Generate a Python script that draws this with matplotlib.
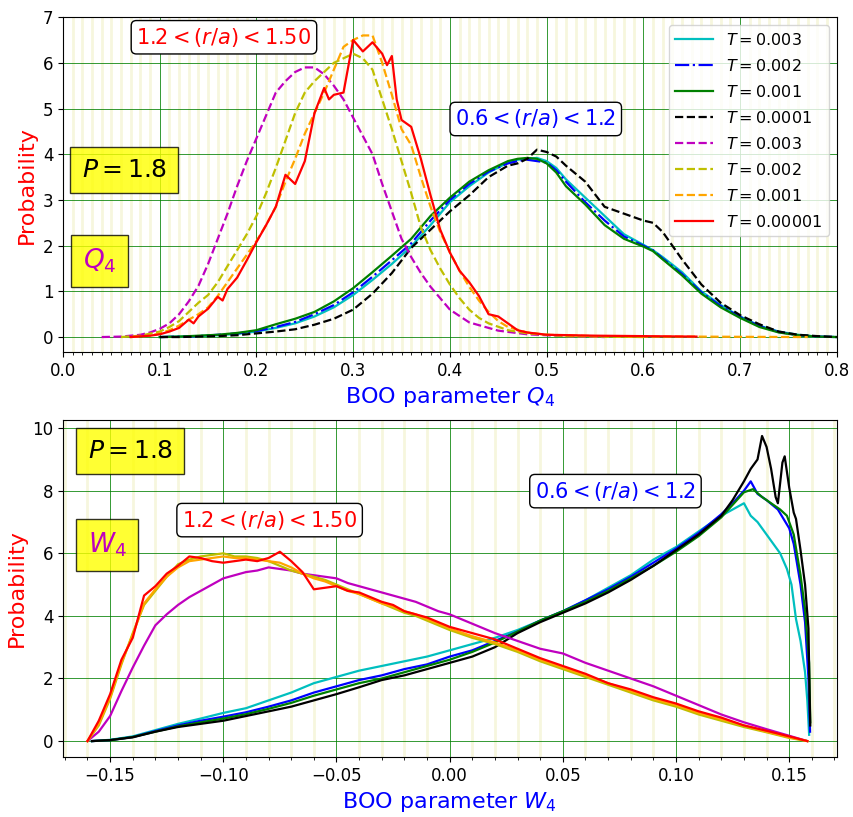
import numpy as np
import matplotlib
matplotlib.use("Agg")
import matplotlib.pyplot as plt
from matplotlib.ticker import MultipleLocator

# ---------------- Q4 data (top panel) ----------------
# 0.6 < r/a < 1.2 shell, common grid
q4_hi = [0.10, 0.12, 0.14, 0.16, 0.18, 0.20, 0.22, 0.24, 0.26, 0.28, 0.30, 0.32, 0.34, 0.36,
         0.38, 0.40, 0.42, 0.44, 0.46, 0.47, 0.48, 0.49, 0.50, 0.51, 0.52, 0.54, 0.56, 0.58,
         0.60, 0.61, 0.62, 0.64, 0.66, 0.68, 0.70, 0.72, 0.74, 0.76, 0.78, 0.80]
q4_cyan = [0, 0.01, 0.02, 0.04, 0.07, 0.12, 0.2, 0.3, 0.45, 0.65, 0.92, 1.25, 1.6, 1.98,
           2.45, 2.95, 3.3, 3.6, 3.82, 3.88, 3.9, 3.92, 3.85, 3.7, 3.45, 3.05, 2.65, 2.25,
           2.02, 1.9, 1.75, 1.42, 1.0, 0.7, 0.45, 0.25, 0.12, 0.05, 0.01, 0]
q4_blue = [0, 0.01, 0.02, 0.05, 0.08, 0.13, 0.22, 0.33, 0.5, 0.7, 0.98, 1.32, 1.68, 2.05,
           2.55, 3.0, 3.35, 3.62, 3.8, 3.85, 3.88, 3.85, 3.82, 3.65, 3.4, 2.95, 2.55, 2.2,
           2.0, 1.9, 1.72, 1.38, 0.98, 0.68, 0.44, 0.24, 0.11, 0.04, 0.01, 0]
q4_green = [0, 0.01, 0.03, 0.05, 0.09, 0.15, 0.28, 0.4, 0.55, 0.78, 1.07, 1.42, 1.78, 2.15,
            2.65, 3.05, 3.4, 3.65, 3.85, 3.9, 3.92, 3.9, 3.8, 3.6, 3.3, 2.9, 2.45, 2.15,
            1.98, 1.88, 1.7, 1.35, 0.95, 0.65, 0.42, 0.22, 0.1, 0.04, 0.01, 0]
q4_black = [0, 0, 0.01, 0.02, 0.04, 0.08, 0.12, 0.17, 0.27, 0.4, 0.6, 0.95, 1.4, 1.95,
            2.35, 2.75, 3.1, 3.5, 3.75, 3.8, 3.9, 4.1, 4.05, 3.95, 3.75, 3.4, 2.85, 2.7,
            2.55, 2.5, 2.3, 1.7, 1.15, 0.75, 0.48, 0.28, 0.12, 0.05, 0.02, 0]

# 1.2 < r/a < 1.50 shell
q4_mag_x = [0.04, 0.06, 0.08, 0.09, 0.10, 0.11, 0.12, 0.13, 0.14, 0.15, 0.16, 0.17, 0.18, 0.19,
            0.20, 0.21, 0.22, 0.23, 0.24, 0.25, 0.26, 0.27, 0.28, 0.29, 0.30, 0.31, 0.32, 0.33,
            0.34, 0.35, 0.36, 0.37, 0.38, 0.39, 0.40, 0.42, 0.45, 0.48, 0.52, 0.56]
q4_mag = [0, 0.01, 0.05, 0.1, 0.18, 0.3, 0.5, 0.78, 1.12, 1.6, 2.15, 2.7, 3.3, 3.85,
          4.35, 4.85, 5.35, 5.6, 5.8, 5.9, 5.9, 5.75, 5.5, 5.2, 4.8, 4.4, 4.0, 3.35,
          2.75, 2.15, 1.75, 1.4, 1.1, 0.85, 0.6, 0.32, 0.14, 0.06, 0.02, 0]
q4_yel_x = [0.06, 0.08, 0.10, 0.11, 0.12, 0.13, 0.14, 0.15, 0.16, 0.17, 0.18, 0.19, 0.20, 0.21,
            0.22, 0.23, 0.24, 0.25, 0.26, 0.27, 0.28, 0.29, 0.30, 0.31, 0.32, 0.33, 0.34, 0.35,
            0.36, 0.37, 0.38, 0.39, 0.40, 0.41, 0.42, 0.43, 0.44, 0.46, 0.48, 0.52, 0.56, 0.60]
q4_yel = [0, 0.03, 0.12, 0.22, 0.35, 0.55, 0.75, 0.92, 1.2, 1.55, 1.9, 2.25, 2.65, 3.15,
          3.7, 4.3, 4.9, 5.35, 5.6, 5.8, 6.0, 6.1, 6.2, 6.1, 5.85, 5.2, 4.55, 3.85,
          3.15, 2.4, 1.9, 1.5, 1.15, 0.85, 0.6, 0.42, 0.3, 0.15, 0.08, 0.02, 0.01, 0]
q4_org_x = [0.07, 0.09, 0.10, 0.11, 0.12, 0.13, 0.14, 0.15, 0.16, 0.17, 0.18, 0.19, 0.20, 0.21,
            0.22, 0.23, 0.24, 0.25, 0.26, 0.27, 0.28, 0.29, 0.30, 0.31, 0.32, 0.33, 0.34, 0.35,
            0.36, 0.37, 0.38, 0.39, 0.40, 0.41, 0.42, 0.43, 0.44, 0.45, 0.46, 0.48, 0.50, 0.55,
            0.60, 0.65, 0.70, 0.77]
q4_org = [0, 0.03, 0.08, 0.15, 0.25, 0.38, 0.5, 0.65, 0.9, 1.2, 1.5, 1.8, 2.1, 2.45,
          2.85, 3.4, 3.9, 4.45, 4.9, 5.35, 5.85, 6.35, 6.5, 6.6, 6.6, 6.0, 5.3, 4.55,
          4.2, 3.5, 2.85, 2.3, 1.85, 1.45, 1.1, 0.8, 0.55, 0.35, 0.22, 0.1, 0.05, 0.02,
          0.01, 0.01, 0.005, 0]
q4_red_x = [0.07, 0.09, 0.10, 0.11, 0.12, 0.13, 0.135, 0.14, 0.15, 0.16, 0.165, 0.17, 0.18,
            0.19, 0.20, 0.21, 0.22, 0.23, 0.24, 0.25, 0.26, 0.27, 0.275, 0.28, 0.29, 0.30,
            0.31, 0.32, 0.33, 0.335, 0.34, 0.345, 0.35, 0.36, 0.37, 0.38, 0.39, 0.40, 0.41,
            0.42, 0.43, 0.44, 0.45, 0.46, 0.47, 0.48, 0.50, 0.55, 0.60, 0.655]
q4_red = [0, 0.03, 0.06, 0.12, 0.2, 0.38, 0.3, 0.45, 0.62, 0.88, 0.8, 1.05, 1.3,
          1.68, 2.08, 2.45, 2.85, 3.55, 3.35, 3.85, 4.9, 5.45, 5.2, 5.3, 5.35, 6.5,
          6.25, 6.45, 6.2, 5.95, 6.15, 5.2, 4.75, 4.6, 3.9, 3.1, 2.35, 1.85, 1.45,
          1.2, 0.9, 0.5, 0.45, 0.3, 0.15, 0.1, 0.05, 0.03, 0.02, 0.01]

# ---------------- W4 data (bottom panel) ----------------
w4_lo = [-0.16, -0.155, -0.15, -0.145, -0.14, -0.135, -0.13, -0.125, -0.12, -0.115, -0.11,
         -0.105, -0.10, -0.095, -0.09, -0.085, -0.08, -0.075, -0.07, -0.065, -0.06, -0.055,
         -0.05, -0.045, -0.04, -0.035, -0.03, -0.025, -0.02, -0.015, -0.01, -0.005, 0.0,
         0.01, 0.02, 0.03, 0.04, 0.05, 0.06, 0.07, 0.08, 0.09, 0.10, 0.11, 0.12, 0.13,
         0.14, 0.15, 0.158]
w4_mag = [0, 0.3, 0.8, 1.6, 2.35, 3.05, 3.7, 4.05, 4.35, 4.6, 4.8, 5.0, 5.2, 5.3, 5.4,
          5.45, 5.55, 5.5, 5.45, 5.35, 5.3, 5.25, 5.2, 5.05, 4.95, 4.85, 4.75, 4.65, 4.55,
          4.45, 4.3, 4.15, 4.05, 3.75, 3.45, 3.2, 2.95, 2.8, 2.5, 2.25, 2.0, 1.75, 1.45,
          1.15, 0.85, 0.6, 0.38, 0.17, 0]
w4_yel = [0, 0.5, 1.35, 2.45, 3.45, 4.35, 4.8, 5.25, 5.65, 5.8, 5.9, 5.95, 6.0, 5.9, 5.9,
          5.85, 5.75, 5.6, 5.45, 5.35, 5.25, 5.15, 5.0, 4.85, 4.7, 4.55, 4.4, 4.25, 4.1,
          4.0, 3.85, 3.7, 3.55, 3.3, 3.1, 2.85, 2.55, 2.3, 2.05, 1.8, 1.55, 1.3, 1.1,
          0.85, 0.65, 0.45, 0.28, 0.1, 0]
w4_org = [0, 0.55, 1.4, 2.5, 3.4, 4.4, 4.85, 5.25, 5.55, 5.75, 5.8, 5.85, 5.9, 5.85, 5.85,
          5.8, 5.75, 5.7, 5.55, 5.35, 5.2, 5.1, 4.95, 4.8, 4.7, 4.55, 4.4, 4.3, 4.15,
          4.05, 3.9, 3.75, 3.6, 3.35, 3.15, 2.9, 2.6, 2.35, 2.1, 1.85, 1.6, 1.35, 1.15,
          0.9, 0.7, 0.5, 0.3, 0.12, 0]
w4_red = [0, 0.65, 1.5, 2.6, 3.3, 4.65, 4.95, 5.35, 5.6, 5.9, 5.85, 5.75, 5.7, 5.75, 5.8,
          5.75, 5.85, 6.05, 5.75, 5.4, 4.85, 4.9, 4.95, 4.8, 4.75, 4.6, 4.45, 4.35, 4.15,
          4.05, 3.95, 3.8, 3.65, 3.45, 3.25, 2.95, 2.65, 2.4, 2.15, 1.85, 1.65, 1.4, 1.2,
          0.95, 0.75, 0.5, 0.33, 0.15, 0]

w4_hi = [-0.158, -0.15, -0.14, -0.13, -0.12, -0.11, -0.10, -0.09, -0.08, -0.07, -0.06,
         -0.05, -0.04, -0.03, -0.02, -0.01, 0.0, 0.01, 0.02, 0.03, 0.04, 0.05, 0.06, 0.07,
         0.08, 0.09, 0.10, 0.11, 0.12]
w4_cyan = [0, 0.04, 0.15, 0.35, 0.55, 0.72, 0.9, 1.05, 1.3, 1.55, 1.85, 2.05, 2.25, 2.4,
           2.55, 2.7, 2.9, 3.1, 3.3, 3.55, 3.85, 4.15, 4.5, 4.9, 5.3, 5.8, 6.2, 6.7, 7.2]
w4_cyan_tx = [0.125, 0.13, 0.133, 0.136, 0.14, 0.143, 0.146, 0.149, 0.151, 0.153, 0.155,
              0.157, 0.158, 0.1588]
w4_cyan_t = [7.4, 7.6, 7.2, 7.0, 6.6, 6.3, 6.0, 5.5, 5.0, 3.9, 3.2, 2.2, 1.3, 0.2]
w4_blue = [0, 0.03, 0.13, 0.32, 0.5, 0.65, 0.78, 0.92, 1.1, 1.3, 1.55, 1.75, 1.95, 2.1,
           2.3, 2.45, 2.7, 2.9, 3.2, 3.5, 3.85, 4.15, 4.5, 4.85, 5.25, 5.7, 6.15, 6.65, 7.25]
w4_blue_tx = [0.125, 0.13, 0.133, 0.136, 0.14, 0.145, 0.15, 0.152, 0.155, 0.157, 0.1585, 0.1592]
w4_blue_t = [7.6, 8.0, 8.3, 7.9, 7.7, 7.4, 6.8, 6.3, 5.0, 3.8, 2.0, 0.3]
w4_green = [0, 0.03, 0.13, 0.3, 0.47, 0.6, 0.72, 0.86, 1.03, 1.22, 1.45, 1.65, 1.85, 2.0,
            2.2, 2.4, 2.6, 2.85, 3.15, 3.5, 3.85, 4.15, 4.45, 4.8, 5.2, 5.6, 6.05, 6.55, 7.15]
w4_green_tx = [0.125, 0.13, 0.134, 0.138, 0.142, 0.146, 0.149, 0.152, 0.155, 0.157, 0.1588, 0.1593]
w4_green_t = [7.55, 7.95, 8.05, 7.8, 7.6, 7.4, 7.2, 6.6, 5.3, 4.2, 2.5, 0.6]
w4_black = [0, 0.03, 0.12, 0.3, 0.45, 0.55, 0.65, 0.8, 0.95, 1.1, 1.3, 1.5, 1.72, 1.95,
            2.1, 2.3, 2.5, 2.7, 3.0, 3.45, 3.8, 4.1, 4.4, 4.75, 5.15, 5.6, 6.1, 6.6, 7.2]
w4_black_tx = [0.125, 0.13, 0.133, 0.136, 0.138, 0.14, 0.142, 0.144, 0.145, 0.147, 0.148,
               0.15, 0.152, 0.153, 0.155, 0.157, 0.1585, 0.159, 0.1593]
w4_black_t = [7.7, 8.3, 8.7, 9.0, 9.75, 9.4, 8.7, 7.8, 7.6, 8.9, 9.1, 8.1, 7.3, 7.1, 6.1,
              5.0, 3.6, 1.5, 0.5]

labels = ['$T=0.003$', '$T=0.002$', '$T=0.001$', '$T=0.0001$',
          '$T=0.003$', '$T=0.002$', '$T=0.001$', '$T=0.00001$']

fig = plt.figure(figsize=(8.54, 8.17), dpi=100)
ax1 = fig.add_axes([0.0738, 0.569, 0.906, 0.410])
ax2 = fig.add_axes([0.0738, 0.0734, 0.906, 0.4125])

lw = 1.6
ax1.plot(q4_hi, q4_cyan, 'c-', lw=lw, label=labels[0])
ax1.plot(q4_hi, q4_blue, 'b-.', lw=lw, label=labels[1])
ax1.plot(q4_hi, q4_green, 'g-', lw=lw, label=labels[2])
ax1.plot(q4_hi, q4_black, 'k--', lw=lw, label=labels[3])
ax1.plot(q4_mag_x, q4_mag, 'm--', lw=lw, label=labels[4])
ax1.plot(q4_yel_x, q4_yel, 'y--', lw=lw, label=labels[5])
ax1.plot(q4_org_x, q4_org, '--', color='orange', lw=lw, label=labels[6])
ax1.plot(q4_red_x, q4_red, 'r-', lw=lw, label=labels[7])

ax2.plot(w4_hi + w4_cyan_tx, w4_cyan + w4_cyan_t, 'c-', lw=lw)
ax2.plot(w4_hi + w4_blue_tx, w4_blue + w4_blue_t, 'b-', lw=lw)
ax2.plot(w4_hi + w4_green_tx, w4_green + w4_green_t, 'g-', lw=lw)
ax2.plot(w4_hi + w4_black_tx, w4_black + w4_black_t, 'k-', lw=lw)
ax2.plot(w4_lo, w4_mag, 'm-', lw=lw)
ax2.plot(w4_lo, w4_yel, 'y-', lw=lw)
ax2.plot(w4_lo, w4_org, '-', color='orange', lw=lw)
ax2.plot(w4_lo, w4_red, 'r-', lw=lw)

ax1.set_xlim(0, 0.8)
ax1.set_ylim(-0.33, 7.0)
ax1.xaxis.set_major_locator(MultipleLocator(0.1))
ax1.xaxis.set_minor_locator(MultipleLocator(0.01))
ax1.yaxis.set_major_locator(MultipleLocator(1))

ax2.set_xlim(-0.1708, 0.171)
ax2.set_ylim(-0.51, 10.26)
ax2.xaxis.set_major_locator(MultipleLocator(0.05))
ax2.xaxis.set_minor_locator(MultipleLocator(0.01))
ax2.yaxis.set_major_locator(MultipleLocator(2))

for ax in (ax1, ax2):
    ax.grid(which='major', color='g', lw=0.7, alpha=0.8)
    ax.grid(which='minor', axis='x', color='y', alpha=0.13, lw=2)
    ax.set_axisbelow(True)
    ax.tick_params(labelsize=12)
    ax.set_ylabel('Probability', color='r', fontsize=16)

ax1.set_xlabel('BOO parameter $Q_4$', color='b', fontsize=16)
ax2.set_xlabel('BOO parameter $W_4$', color='b', fontsize=16)

ax1.legend(loc='upper right', fontsize=11.5, handlelength=2.4, labelspacing=0.63)

ybox = dict(boxstyle='square,pad=0.45', facecolor='yellow', edgecolor='k', alpha=0.8)
rbox = dict(boxstyle='round,pad=0.25', facecolor='white', edgecolor='k')

ax1.text(0.079, 0.543, '$P=1.8$', transform=ax1.transAxes, fontsize=18,
         ha='center', va='center', bbox=ybox)
ax1.text(0.047, 0.272, '$Q_4$', transform=ax1.transAxes, fontsize=19, color='m',
         ha='center', va='center', bbox=ybox)
ax1.text(0.208, 0.94, r'$1.2<(r/a)<1.50$', transform=ax1.transAxes, fontsize=15,
         color='r', ha='center', va='center', bbox=rbox)
ax1.text(0.611, 0.696, r'$0.6<(r/a)<1.2$', transform=ax1.transAxes, fontsize=15,
         color='b', ha='center', va='center', bbox=rbox)

ax2.text(0.087, 0.908, '$P=1.8$', transform=ax2.transAxes, fontsize=18,
         ha='center', va='center', bbox=ybox)
ax2.text(0.057, 0.629, '$W_4$', transform=ax2.transAxes, fontsize=19, color='m',
         ha='center', va='center', bbox=ybox)
ax2.text(0.267, 0.703, r'$1.2<(r/a)<1.50$', transform=ax2.transAxes, fontsize=15,
         color='r', ha='center', va='center', bbox=rbox)
ax2.text(0.714, 0.789, r'$0.6<(r/a)<1.2$', transform=ax2.transAxes, fontsize=15,
         color='b', ha='center', va='center', bbox=rbox)

plt.savefig('out.png', dpi=100)
